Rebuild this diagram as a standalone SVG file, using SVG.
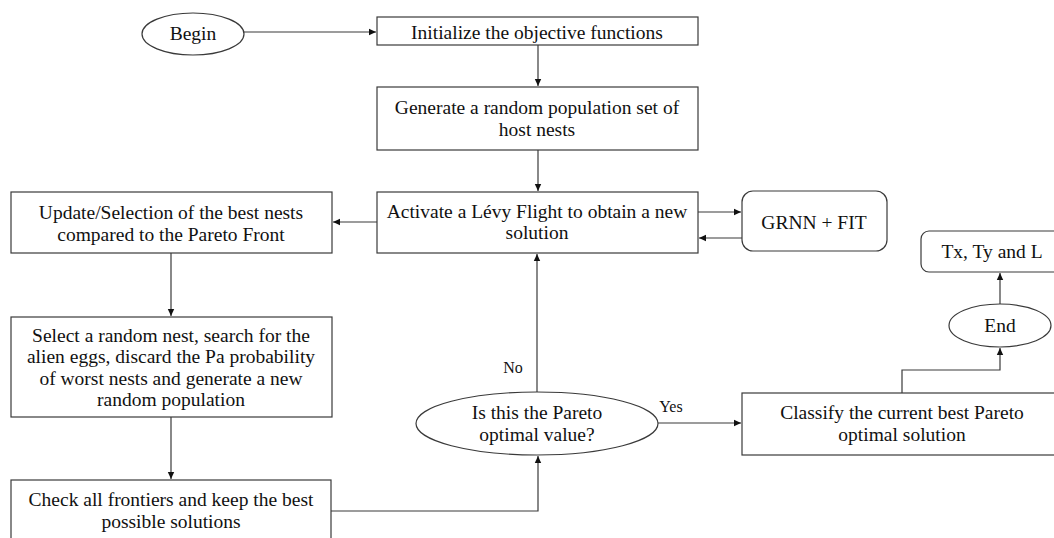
<svg xmlns="http://www.w3.org/2000/svg" width="1054" height="538" viewBox="0 0 1054 538">
<style>
.box{fill:#fff;stroke:#3a3a3a;stroke-width:1.2}
.t{font-family:"Liberation Serif","Times New Roman",serif;font-size:19.5px;fill:#111;text-anchor:middle}
.lbl{font-family:"Liberation Serif","Times New Roman",serif;font-size:16px;fill:#111;text-anchor:middle}
.c{fill:none;stroke:#3a3a3a;stroke-width:1.2}
</style>
<defs>
<marker id="ah" markerUnits="userSpaceOnUse" markerWidth="8" markerHeight="8" refX="7" refY="4" orient="auto">
<path d="M0,0.8 L7,4 L0,7.2 Z" fill="#111"/>
</marker>
</defs>
<rect width="1054" height="538" fill="#fff"/>
<g id="connectors">
<path class="c" d="M244,32 H376" marker-end="url(#ah)"/>
<path class="c" d="M538,45 V86" marker-end="url(#ah)"/>
<path class="c" d="M538,150 V191" marker-end="url(#ah)"/>
<path class="c" d="M698,212 H741" marker-end="url(#ah)"/>
<path class="c" d="M742,238 H699" marker-end="url(#ah)"/>
<path class="c" d="M377,222 H333" marker-end="url(#ah)"/>
<path class="c" d="M171,253 V316" marker-end="url(#ah)"/>
<path class="c" d="M171,417 V479" marker-end="url(#ah)"/>
<path class="c" d="M331,511 H538 V456" marker-end="url(#ah)"/>
<path class="c" d="M537,392 V254" marker-end="url(#ah)"/>
<path class="c" d="M658,423 H741" marker-end="url(#ah)"/>
<path class="c" d="M902,393 V370 H1000 V348" marker-end="url(#ah)"/>
<path class="c" d="M1000,304 V273" marker-end="url(#ah)"/>
<text class="lbl" x="513" y="373">No</text>
<text class="lbl" x="671" y="412">Yes</text>
</g>
<g id="begin">
<ellipse class="box" cx="193" cy="34" rx="51" ry="21"/>
<text class="t" x="193" y="40">Begin</text>
</g>
<g id="init">
<rect class="box" x="377" y="17" width="321" height="28"/>
<text class="t" x="537" y="39">Initialize the objective functions</text>
</g>
<g id="generate">
<rect class="box" x="377" y="87" width="321" height="63"/>
<text class="t" x="537" y="114">Generate a random population set of</text>
<text class="t" x="537" y="136">host nests</text>
</g>
<g id="activate">
<rect class="box" x="377" y="192" width="321" height="61"/>
<text class="t" x="537" y="218">Activate a Lévy Flight to obtain a new</text>
<text class="t" x="537" y="239">solution</text>
</g>
<g id="grnn">
<rect class="box" x="742" y="191" width="145" height="60" rx="11"/>
<text class="t" x="814" y="229">GRNN + FIT</text>
</g>
<g id="update">
<rect class="box" x="11" y="192" width="321" height="61"/>
<text class="t" x="171" y="219">Update/Selection of the best nests</text>
<text class="t" x="171" y="241">compared to the Pareto Front</text>
</g>
<g id="select">
<rect class="box" x="11" y="317" width="321" height="100"/>
<text class="t" x="171" y="342">Select a random nest, search for the</text>
<text class="t" x="171" y="363">alien eggs, discard the Pa probability</text>
<text class="t" x="171" y="385">of worst nests and generate a new</text>
<text class="t" x="171" y="406">random population</text>
</g>
<g id="check">
<rect class="box" x="11" y="480" width="320" height="70"/>
<text class="t" x="171" y="506">Check all frontiers and keep the best</text>
<text class="t" x="171" y="528">possible solutions</text>
</g>
<g id="decision">
<ellipse class="box" cx="537" cy="423.5" rx="121" ry="31.5"/>
<text class="t" x="537" y="419">Is this the Pareto</text>
<text class="t" x="537" y="441">optimal value?</text>
</g>
<g id="classify">
<rect class="box" x="742" y="393" width="321" height="62"/>
<text class="t" x="902" y="419">Classify the current best Pareto</text>
<text class="t" x="902" y="441">optimal solution</text>
</g>
<g id="end">
<ellipse class="box" cx="1000" cy="325.5" rx="51" ry="21.5"/>
<text class="t" x="1000" y="332">End</text>
</g>
<g id="output">
<rect class="box" x="921" y="231" width="142" height="41" rx="8"/>
<text class="t" x="992" y="258">Tx, Ty and L</text>
</g>
</svg>
